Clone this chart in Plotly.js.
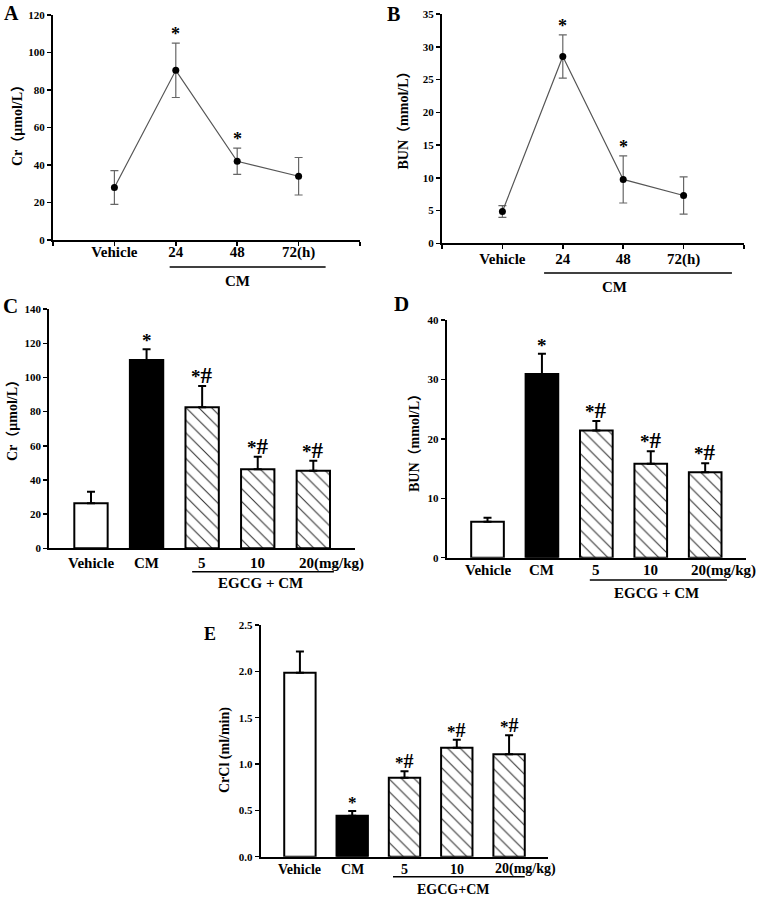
<!DOCTYPE html>
<html><head><meta charset="utf-8">
<script src="https://cdn.plot.ly/plotly-3.0.1.min.js"></script>
<style>html,body{margin:0;padding:0;background:#fff}</style>
</head><body><div id="chart" style="width:762px;height:897px"></div>
<script>
// ---------- data ----------
const timeCats = ['Vehicle', '24', '48', '72(h)'];
const crTime = [28, 90.5, 42, 34];
const crTimeErr = [9, 14.5, 7, 10];
const crTimeSig = ['', '*', '*', ''];
const bunTime = [4.85, 28.5, 9.75, 7.3];
const bunTimeErr = [0.9, 3.3, 3.6, 2.85];
const bunTimeSig = ['', '*', '*', ''];

const doseCats = ['Vehicle', 'CM', '5', '10', '20(mg/kg)'];
const crDose = [26.3, 110.2, 82.5, 46.2, 45.4];
const crDoseErr = [6.8, 6.3, 12.5, 7.4, 5.9];
const bunDose = [6.06, 30.9, 21.4, 15.8, 14.4];
const bunDoseErr = [0.67, 3.4, 1.6, 2.1, 1.5];
const crcl = [1.985, 0.442, 0.852, 1.176, 1.105];
const crclErr = [0.23, 0.05, 0.07, 0.085, 0.205];
const doseSig = ['', '*', '*#', '*#', '*#'];

const crTimeTicks = [0, 20, 40, 60, 80, 100, 120];
const bunTimeTicks = [0, 5, 10, 15, 20, 25, 30, 35];
const crDoseTicks = [0, 20, 40, 60, 80, 100, 120, 140];
const bunDoseTicks = [0, 10, 20, 30, 40];
const crclTicks = [0, 0.5, 1.0, 1.5, 2.0, 2.5];

// ---------- styling ----------
const W = 762, H = 897;
const px = v => v / W;
const py = v => 1 - v / H;
const F = "'Liberation Serif', 'Noto Sans CJK SC', serif";
const solidFill = ['white', 'black'];   // Vehicle, CM
const NSOLID = solidFill.length;
const BARW = 0.6;

const idx = arr => arr.map((_, i) => i);
const addErr = (v, e) => v.map((x, i) => x + e[i]);

function lineTrace(vals, errs, xa, ya) {
  return {
    type: 'scatter', mode: 'lines+markers', x: idx(vals), y: vals, xaxis: xa, yaxis: ya,
    line: {color: '#555', width: 1.2},
    marker: {color: 'black', size: 7},
    error_y: {type: 'data', array: errs, visible: true, color: '#666', thickness: 1.2, width: 4},
    hoverinfo: 'y', showlegend: false
  };
}
function barPart(xs, vals, errs, xa, ya, marker) {
  return {
    type: 'bar', x: xs, y: vals, xaxis: xa, yaxis: ya, width: BARW, marker: marker,
    error_y: {type: 'data', symmetric: false, array: errs, arrayminus: vals.map(() => 0),
              visible: true, color: 'black', thickness: 2, width: 4},
    hoverinfo: 'y', showlegend: false
  };
}
function barTraces(vals, errs, xa, ya) {
  const xs = idx(vals);
  return [
    barPart(xs.slice(0, NSOLID), vals.slice(0, NSOLID), errs.slice(0, NSOLID), xa, ya,
      {color: solidFill, line: {color: 'black', width: 2}}),
    barPart(xs.slice(NSOLID), vals.slice(NSOLID), errs.slice(NSOLID), xa, ya,
      {color: 'white', line: {color: 'black', width: 2},
       pattern: {shape: '\\', fillmode: 'replace', bgcolor: 'white', fgcolor: '#333',
                 size: 9, solidity: 0.12}})
  ];
}
const data = [
  lineTrace(crTime, crTimeErr, 'x', 'y'),
  lineTrace(bunTime, bunTimeErr, 'x2', 'y2')
].concat(
  barTraces(crDose, crDoseErr, 'x3', 'y3'),
  barTraces(bunDose, bunDoseErr, 'x4', 'y4'),
  barTraces(crcl, crclErr, 'x5', 'y5')
);

const axLine = {showline: true, linecolor: 'black', linewidth: 2, showgrid: false, zeroline: false, fixedrange: true};
function yAx(dom, range, ticks, anchor, fmt, fs) {
  return Object.assign({}, axLine, {
    domain: dom, range: range, anchor: anchor, tickvals: ticks,
    ticktext: ticks.map(t => fmt ? t.toFixed(1) : String(t)),
    ticks: 'outside', ticklen: 4, tickwidth: 1.5, tickcolor: 'black',
    tickfont: {family: F, size: fs || 11, weight: 'bold', color: 'black'}
  });
}
function xLineAx(dom, anchor, standoff) {
  return Object.assign({}, axLine, {
    domain: dom, range: [-1, 4], anchor: anchor,
    tickvals: [-1, 0, 1, 2, 3, 4], ticktext: [''].concat(timeCats, ['']),
    ticks: 'outside', ticklen: 4, tickwidth: 1.5, tickcolor: 'black',
    ticklabelstandoff: standoff,
    tickfont: {family: F, size: 15, weight: 'bold', color: 'black'}
  });
}
function xBarAx(dom, anchor) {
  return Object.assign({}, axLine, {
    domain: dom, range: [-0.75, 4.75], anchor: anchor, showticklabels: false, ticks: ''
  });
}

const layout = {
  width: W, height: H, autosize: false,
  margin: {l: 0, r: 0, t: 0, b: 0},
  paper_bgcolor: 'white', plot_bgcolor: 'white',
  showlegend: false, barmode: 'overlay',
  xaxis: xLineAx([px(53), px(360)], 'y', -7),
  yaxis: yAx([py(240), py(15)], [0, 120], crTimeTicks, 'x'),
  xaxis2: xLineAx([px(442), px(744)], 'y2', -3),
  yaxis2: yAx([py(243.3), py(14)], [0, 35], bunTimeTicks, 'x2'),
  xaxis3: xBarAx([px(49.3), px(355)], 'y3'),
  yaxis3: yAx([py(548.3), py(309.1)], [0, 140], crDoseTicks, 'x3'),
  xaxis4: xBarAx([px(446.7), px(746)], 'y4'),
  yaxis4: yAx([py(557.7), py(320)], [0, 40], bunDoseTicks, 'x4'),
  xaxis5: xBarAx([px(260.7), px(548.3)], 'y5'),
  yaxis5: yAx([py(856.7), py(625)], [0, 2.5], crclTicks, 'x5', true, 11),
  annotations: [], shapes: []
};

const ann = layout.annotations;
function txt(text, x, y, size, opts) {
  ann.push(Object.assign({
    text: text, x: x, y: y, xref: 'paper', yref: 'paper', showarrow: false,
    xanchor: 'center', yanchor: 'middle',
    font: {family: F, size: size, weight: 'bold', color: 'black'}
  }, opts || {}));
}
// panel letters
txt('A', px(2), py(0), 20, {xanchor: 'left', yanchor: 'top'});
txt('B', px(385), py(1), 20, {xanchor: 'left', yanchor: 'top'});
txt('C', px(1), py(306), 21, {xanchor: 'left'});
txt('D', px(392), py(304), 21, {xanchor: 'left'});
txt('E', px(202), py(634), 18, {xanchor: 'left'});
// y titles
txt('Cr（μmol/L）', px(17), py(122), 14, {textangle: -90});
txt('BUN（mmol/L）', px(403), py(117.5), 14, {textangle: -90});
txt('Cr（μmol/L）', px(12), py(417), 14, {textangle: -90});
txt('BUN（mmol/L）', px(414), py(440), 14, {textangle: -90});
txt('CrCl (ml/min)', px(225), py(750), 14, {textangle: -90});

// significance marks: '*' vs Vehicle, '#' vs CM
function sigText(m, starSize, hashSize) {
  return m.split('').map(ch => ch === '#'
    ? '<span style="font-size:' + hashSize + 'px">#</span>'
    : '<span style="font-size:' + starSize + 'px">' + ch + '</span>').join('');
}
function sig(marks, vals, errs, xa, ya, starSize, hashSize, shift) {
  const tops = addErr(vals, errs);
  marks.forEach((m, i) => {
    if (!m) return;
    ann.push({text: sigText(m, starSize, hashSize), x: i, y: tops[i], xref: xa, yref: ya,
      showarrow: false, xanchor: 'center', yanchor: 'bottom', yshift: shift,
      font: {family: F, size: starSize, weight: 'bold', color: 'black'}});
  });
}
sig(crTimeSig, crTime, crTimeErr, 'x', 'y', 18, 18, -3);
sig(bunTimeSig, bunTime, bunTimeErr, 'x2', 'y2', 18, 18, -3);
sig(doseSig, crDose, crDoseErr, 'x3', 'y3', 19, 23, -4);
sig(doseSig, bunDose, bunDoseErr, 'x4', 'y4', 19, 23, -4);
sig(doseSig, crcl, crclErr, 'x5', 'y5', 17, 20, -3);

// dose x labels (the last one starts at the bar's left edge)
function doseLabels(xa, yCenter, size) {
  doseCats.forEach((c, i) => {
    const last = i === doseCats.length - 1;
    ann.push({text: c, x: last ? i - BARW / 2 : i, y: py(yCenter), xref: xa, yref: 'paper',
      showarrow: false, xanchor: last ? 'left' : 'center', yanchor: 'middle',
      font: {family: F, size: size, weight: 'bold', color: 'black'}});
  });
}
doseLabels('x3', 563, 15);
doseLabels('x4', 570, 15);
doseLabels('x5', 869, 14);

// group underlines + group names
function group(xa, x0, x1, yLine, label, xLabel, yLabel, size) {
  layout.shapes.push({type: 'line', xref: xa, yref: 'paper', x0: x0, x1: x1,
    y0: py(yLine), y1: py(yLine), line: {color: 'black', width: 1.5}});
  ann.push({text: label, x: xLabel, y: py(yLabel), xref: xa, yref: 'paper', showarrow: false,
    xanchor: 'center', yanchor: 'middle',
    font: {family: F, size: size, weight: 'bold', color: 'black'}});
}
group('x', 0.9, 3.44, 267, 'CM', 2.0, 281, 15);
group('x2', 0.69, 3.8, 273, 'CM', 1.85, 287, 15);
group('x3', 1.82, 4.37, 571.7, 'EGCG + CM', 3.05, 583, 15);
group('x4', 1.88, 4.4, 580, 'EGCG + CM', 3.11, 593, 15);
group('x5', 1.78, 4.3, 876.7, 'EGCG+CM', 2.93, 889, 14);

Plotly.newPlot('chart', data, layout, {staticPlot: true, displayModeBar: false});
</script>
</body></html>
